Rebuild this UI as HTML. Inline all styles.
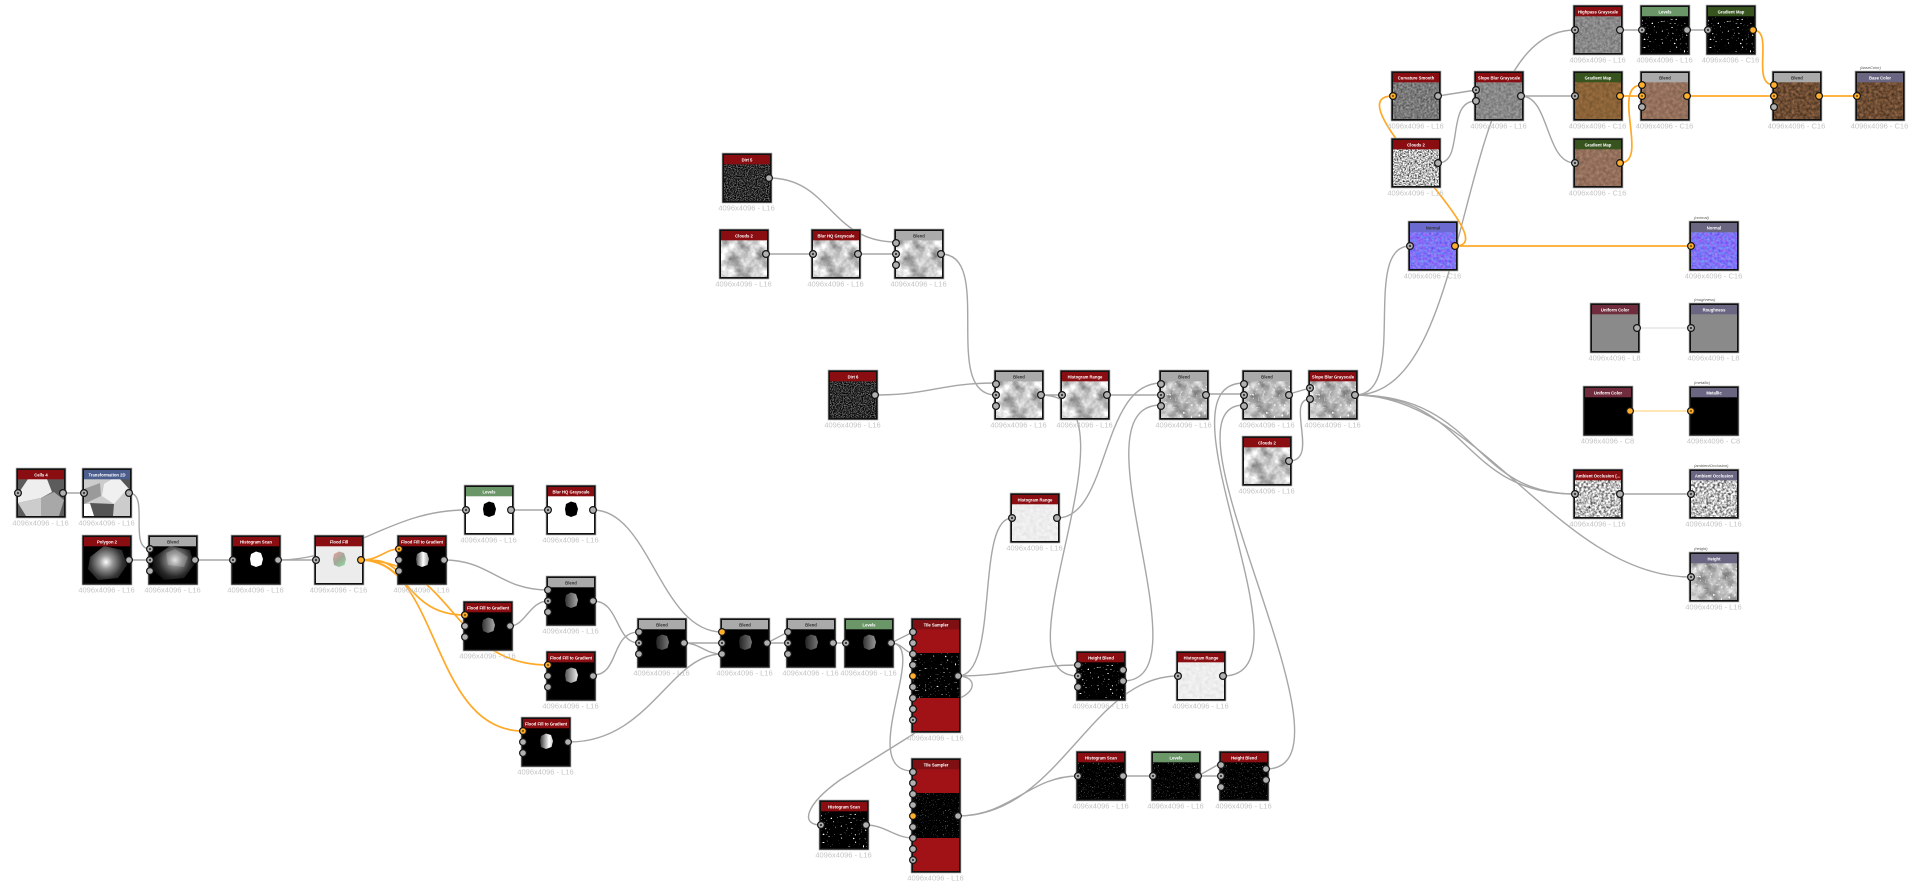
<!DOCTYPE html>
<html><head><meta charset="utf-8"><title>Node graph</title>
<style>
html,body{margin:0;padding:0;background:#fff;width:1920px;height:890px;overflow:hidden}
svg{display:block;position:absolute;left:0;top:0;filter:blur(.3px)}
.t{font:bold 4.2px "Liberation Sans",sans-serif;fill:#fff;text-anchor:middle}
.k{font:bold 4.2px "Liberation Sans",sans-serif;fill:#333;text-anchor:middle}
.d{font:7.5px "Liberation Sans",sans-serif;fill:#c4c4c4;text-anchor:middle}
.l{font:italic 4px "Liberation Sans",sans-serif;fill:#555}
.w{fill:none;stroke:#a6a6a6;stroke-width:1.4}
.o{fill:none;stroke:#ffa928;stroke-width:1.7}
</style></head><body>
<svg width="1920" height="890" viewBox="0 0 1920 890" xmlns="http://www.w3.org/2000/svg">
<defs>
<filter id="cl" x="0" y="0" width="1" height="1" color-interpolation-filters="sRGB"><feTurbulence type="fractalNoise" baseFrequency=".08" numOctaves="5" seed="7"/><feColorMatrix values="1 0 0 0 .28 1 0 0 0 .28 1 0 0 0 .28 0 0 0 0 1"/></filter>
<filter id="cd" x="0" y="0" width="1" height="1" color-interpolation-filters="sRGB"><feTurbulence type="fractalNoise" baseFrequency=".09" numOctaves="5" seed="7"/><feColorMatrix values=".8 0 0 0 .3 .8 0 0 0 .3 .8 0 0 0 .3 0 0 0 0 1" result="a"/><feTurbulence type="fractalNoise" baseFrequency=".38" numOctaves="1" seed="3"/><feColorMatrix values="0 0 0 0 1 0 0 0 0 1 0 0 0 0 1 10 0 0 0 -6.5" result="b"/><feMerge><feMergeNode in="a"/><feMergeNode in="b"/></feMerge></filter>
<filter id="ns" x="0" y="0" width="1" height="1" color-interpolation-filters="sRGB"><feTurbulence type="fractalNoise" baseFrequency=".9" numOctaves="2" seed="2"/><feColorMatrix values="1.3 0 0 0 -.47 1.3 0 0 0 -.47 1.3 0 0 0 -.47 0 0 0 0 1"/></filter>
<filter id="wn" x="0" y="0" width="1" height="1" color-interpolation-filters="sRGB"><feTurbulence type="fractalNoise" baseFrequency=".65" numOctaves="2" seed="5"/><feColorMatrix values="2 0 0 0 -.28 2 0 0 0 -.28 2 0 0 0 -.28 0 0 0 0 1"/></filter>
<filter id="ao" x="0" y="0" width="1" height="1" color-interpolation-filters="sRGB"><feTurbulence type="fractalNoise" baseFrequency=".45" numOctaves="2" seed="9"/><feColorMatrix values="1.6 0 0 0 -.05 1.6 0 0 0 -.05 1.6 0 0 0 -.05 0 0 0 0 1"/></filter>
<filter id="gy" x="0" y="0" width="1" height="1" color-interpolation-filters="sRGB"><feTurbulence type="fractalNoise" baseFrequency=".4" numOctaves="3" seed="4"/><feColorMatrix values=".35 0 0 0 .36 .35 0 0 0 .36 .35 0 0 0 .36 0 0 0 0 1"/></filter>
<filter id="gd" x="0" y="0" width="1" height="1" color-interpolation-filters="sRGB"><feTurbulence type="fractalNoise" baseFrequency=".5" numOctaves="3" seed="4"/><feColorMatrix values=".55 0 0 0 .2 .55 0 0 0 .2 .55 0 0 0 .2 0 0 0 0 1"/></filter>
<filter id="b1" x="0" y="0" width="1" height="1" color-interpolation-filters="sRGB"><feTurbulence type="fractalNoise" baseFrequency=".3" numOctaves="3" seed="4"/><feColorMatrix values=".25 0 0 0 .42 .18 0 0 0 .3 .1 0 0 0 .17 0 0 0 0 1"/></filter>
<filter id="b2" x="0" y="0" width="1" height="1" color-interpolation-filters="sRGB"><feTurbulence type="fractalNoise" baseFrequency=".3" numOctaves="3" seed="6"/><feColorMatrix values=".28 0 0 0 .44 .22 0 0 0 .33 .2 0 0 0 .26 0 0 0 0 1"/></filter>
<filter id="b3" x="0" y="0" width="1" height="1" color-interpolation-filters="sRGB"><feTurbulence type="fractalNoise" baseFrequency=".35" numOctaves="3" seed="8"/><feColorMatrix values=".5 0 0 0 .18 .36 0 0 0 .12 .26 0 0 0 .07 0 0 0 0 1"/></filter>
<filter id="nm" x="0" y="0" width="1" height="1" color-interpolation-filters="sRGB"><feTurbulence type="fractalNoise" baseFrequency=".38" numOctaves="3" seed="4"/><feColorMatrix values="0 .5 0 0 .25 0 0 .5 0 .2 0 0 0 0 .96 0 0 0 0 1"/></filter>
<filter id="sp" x="0" y="0" width="1" height="1" color-interpolation-filters="sRGB"><feTurbulence type="fractalNoise" baseFrequency=".5" numOctaves="1" seed="11"/><feColorMatrix values="14 0 0 0 -9.5 14 0 0 0 -9.5 14 0 0 0 -9.5 0 0 0 0 1"/></filter>
<filter id="sg" x="0" y="0" width="1" height="1" color-interpolation-filters="sRGB"><feTurbulence type="fractalNoise" baseFrequency=".5" numOctaves="1" seed="11"/><feColorMatrix values="8 0 0 0 -5.3 8 0 0 0 -5.3 8 0 0 0 -5.3 0 0 0 0 1"/></filter>
<filter id="sf" x="0" y="0" width="1" height="1" color-interpolation-filters="sRGB"><feTurbulence type="fractalNoise" baseFrequency=".9" numOctaves="1" seed="13"/><feColorMatrix values="5 0 0 0 -3.25 5 0 0 0 -3.25 5 0 0 0 -3.25 0 0 0 0 1"/></filter>
<filter id="wl" x="0" y="0" width="1" height="1" color-interpolation-filters="sRGB"><feTurbulence type="fractalNoise" baseFrequency=".3" numOctaves="2" seed="3"/><feColorMatrix values=".12 0 0 0 .87 .12 0 0 0 .87 .12 0 0 0 .87 0 0 0 0 1"/></filter>
<radialGradient id="rg" gradientUnits="userSpaceOnUse" cx="24" cy="27" r="22"><stop offset="0" stop-color="#fff"/><stop offset=".3" stop-color="#999"/><stop offset=".75" stop-color="#333"/><stop offset="1" stop-color="#1a1a1a"/></radialGradient>
<radialGradient id="rb" gradientUnits="userSpaceOnUse" cx="27" cy="25" r="22"><stop offset="0" stop-color="#ddd"/><stop offset=".3" stop-color="#888"/><stop offset=".75" stop-color="#2a2a2a"/><stop offset="1" stop-color="#111"/></radialGradient>
<linearGradient id="g1" gradientUnits="userSpaceOnUse" x1="19" x2="32"><stop offset="0" stop-color="#444"/><stop offset=".55" stop-color="#fff"/><stop offset="1" stop-color="#999"/></linearGradient>
<linearGradient id="g2" gradientUnits="userSpaceOnUse" x1="19" x2="32"><stop offset="0" stop-color="#333"/><stop offset="1" stop-color="#aaa"/></linearGradient>
<linearGradient id="g3" gradientUnits="userSpaceOnUse" x1="19" x2="32"><stop offset="0" stop-color="#555"/><stop offset="1" stop-color="#eee"/></linearGradient>
<linearGradient id="g4" gradientUnits="userSpaceOnUse" x1="19" x2="32"><stop offset="0" stop-color="#333"/><stop offset=".7" stop-color="#fff"/><stop offset="1" stop-color="#ccc"/></linearGradient>
<linearGradient id="g5" gradientUnits="userSpaceOnUse" x1="19" x2="32"><stop offset="0" stop-color="#222"/><stop offset="1" stop-color="#777"/></linearGradient>
<linearGradient id="g6" gradientUnits="userSpaceOnUse" x1="19" x2="32"><stop offset="0" stop-color="#333"/><stop offset="1" stop-color="#999"/></linearGradient>
<linearGradient id="g7" gradientUnits="userSpaceOnUse" x1="19" y1="17" x2="32" y2="32"><stop offset="0" stop-color="#e8a0a0"/><stop offset=".5" stop-color="#a0a898"/><stop offset="1" stop-color="#90e0a0"/></linearGradient>
<polygon id="bl" points="20,19 25,16.5 30,18 32,24 30.5,30 25,32 20,30 19,24"/>
<g id="f"><rect x="-.3" y="-.3" width="50.6" height="50.6" fill="#aaa"/><rect x=".4" y=".4" width="49.2" height="49.2" fill="#111"/></g>
<g id="u"><circle r="3.4" fill="#b0b0b0" stroke="#151515" stroke-width="1.2"/></g>
<g id="i"><circle r="3.4" fill="#b0b0b0" stroke="#151515" stroke-width="1.2"/><circle r="1.1" fill="#333"/></g>
<g id="y"><circle r="3.4" fill="#ffae2e" stroke="#151515" stroke-width="1.2"/></g>
<g id="z"><circle r="3.4" fill="#ffae2e" stroke="#151515" stroke-width="1.2"/><circle r="1.1" fill="#7a5a10"/></g>
</defs>

<!-- wires -->
<g class="wires">
<path class="w" d="M63,493H84"/>
<path class="w" d="M129,493C150,493 128,549 150,549"/>
<path class="w" d="M129,560H150"/>
<path class="w" d="M195,560H233"/>
<path class="w" d="M278,560H316"/>
<path class="w" d="M278,560C350,560 390,510 466,510"/>
<path class="w" d="M444,560C490,560 500,590 548,590"/>
<path class="w" d="M510,626C525,626 530,601 548,601"/>
<path class="w" d="M511,510H548"/>
<path class="w" d="M593,510C650,510 660,632 722,632"/>
<path class="w" d="M593,675C620,675 610,632 639,632"/>
<path class="w" d="M593,601C620,601 615,643 639,643"/>
<path class="w" d="M684,643H722"/>
<path class="w" d="M684,643C700,643 705,654 722,654"/>
<path class="w" d="M569,742C650,742 670,654 722,654"/>
<path class="w" d="M767,643L788,632"/>
<path class="w" d="M767,643H788"/>
<path class="w" d="M833,643H846"/>
<path class="w" d="M891,643L913,632"/>
<path class="w" d="M891,643C902,643 905,653 913,653"/>
<path class="w" d="M891,643C930,643 855,771 913,771"/>
<path class="w" d="M866,825C885,825 895,838 913,838"/>
<path class="w" d="M958,676C975,676 978,690 960,698L912,735L840,780C805,805 800,825 821,825"/>
<path class="w" d="M958,676C1000,676 975,518 1012,518"/>
<path class="w" d="M958,676C1010,676 1030,665 1078,665"/>
<path class="w" d="M958,816C1010,816 1030,776 1078,776"/>
<path class="w" d="M958,816C1060,816 1090,676 1178,676"/>
<path class="w" d="M1123,776H1153"/>
<path class="w" d="M1198,776H1221"/>
<path class="w" d="M1198,776L1221,763"/>
<path class="w" d="M1123,681C1210,681 1070,405 1161,405"/>
<path class="w" d="M1041,395C1150,395 990,676 1078,676"/>
<path class="w" d="M1041,395H1062"/>
<path class="w" d="M1107,395H1161"/>
<path class="w" d="M1057,518C1110,518 1100,383 1161,383"/>
<path class="w" d="M1206,394H1244"/>
<path class="w" d="M1266,769C1370,769 1150,405 1244,405"/>
<path class="w" d="M1223,676C1320,676 1150,383 1244,383"/>
<path class="w" d="M1289,394L1310,388"/>
<path class="w" d="M1289,461C1320,461 1285,399 1310,399"/>
<path class="w" d="M1355,395C1410,395 1360,246 1410,246"/>
<path class="w" d="M1355,395C1480,395 1450,30 1575,30"/>
<path class="w" d="M1355,395C1470,395 1460,494 1575,494"/>
<path class="w" d="M1355,395C1480,395 1470,494 1575,494"/>
<path class="w" d="M1355,395C1480,395 1560,577 1691,577"/>
<path class="w" d="M1438,96L1476,90"/>
<path class="w" d="M1438,163C1465,163 1445,101 1476,101"/>
<path class="w" d="M1521,96H1575"/>
<path class="w" d="M1521,96C1550,96 1545,163 1575,163"/>
<path class="w" d="M1620,30H1642"/>
<path class="w" d="M1687,30H1708"/>
<path class="w" d="M1620,494H1691"/>
<path class="w" d="M769,178C830,178 830,242 896,242"/>
<path class="w" d="M766,254H813"/>
<path class="w" d="M858,254H896"/>
<path class="w" d="M941,254C995,254 940,395 996,395"/>
<path class="w" d="M875,395C930,395 940,383 996,383"/>
<path fill="none" stroke="#e0e0e0" stroke-width="1.2" d="M1637,328H1691"/>
<path fill="none" stroke="#ffd68c" stroke-width="1.2" d="M1630,411H1691"/>
<path class="o" d="M361,560C380,560 385,549 399,549"/>
<path class="o" d="M361,560C380,560 385,560 399,572"/>
<path class="o" d="M361,560C410,560 405,615 465,615"/>
<path class="o" d="M361,560C455,560 450,665 548,665"/>
<path class="o" d="M361,560C440,560 430,731 523,731"/>
<path class="o" d="M1455,246H1691"/>
<path class="o" d="M1455,246C1510,246 1330,96 1393,96"/>
<path class="o" d="M1753,30C1775,30 1750,85 1774,85"/>
<path class="o" d="M1620,96H1642"/>
<path class="o" d="M1620,163C1650,163 1610,85 1642,85"/>
<path class="o" d="M1687,96H1774"/>
<path class="o" d="M1819,96H1857"/>
</g>

<!-- left cluster -->
<g transform="translate(16,468)"><use href="#f"/><rect x="2" y="2" width="46" height="46" fill="#5c5c5c"/><polygon points="12,11 31,11 36,24 25,30 2,35 2,26" fill="#eee"/><polygon points="2,35 25,30 25,48 10,48" fill="#ccc"/><polygon points="25,30 38,24 48,32 43,48 25,48" fill="#a8a8a8"/><rect x="2" y="2" width="46" height="9.3" fill="#8a0d12"/><text class="t" x="25" y="8.6">Cells 4</text><text class="d" x="24.5" y="57.5">4096x4096 - L16</text><use href="#i" x="2" y="25"/><use href="#u" x="47" y="25"/></g>
<g transform="translate(82,468)"><use href="#f"/><rect x="2" y="2" width="46" height="46" fill="#ccc"/><polygon points="30,11 46,11 46,20 32,36 20,28 22,16" fill="#f0f0f0"/><polygon points="2,21 18,15 19,28 2,36" fill="#9a9a9a"/><polygon points="8,35 32,36 31,48 12,48" fill="#555"/><polygon points="2,36 8,36 12,48 2,48" fill="#fff"/><polygon points="38,11 48,11 48,22" fill="#555"/><rect x="2" y="2" width="46" height="9.3" fill="#4a5d8c"/><text class="t" x="25" y="8.6">Transformation 2D</text><text class="d" x="24.5" y="57.5">4096x4096 - L16</text><use href="#i" x="2" y="25"/><use href="#u" x="47" y="25"/></g>
<g transform="translate(82,535)"><use href="#f"/><rect x="2" y="2" width="46" height="46" fill="#000"/><polygon points="8,22 22,11 40,15 45,30 36,43 16,45 6,34" fill="url(#rg)"/><rect x="2" y="2" width="46" height="9.3" fill="#8a0d12"/><text class="t" x="25" y="8.6">Polygon 2</text><text class="d" x="24.5" y="57.5">4096x4096 - L16</text><use href="#u" x="47" y="25"/></g>
<g transform="translate(148,535)"><use href="#f"/><rect x="2" y="2" width="46" height="46" fill="#000"/><polygon points="6,22 22,11 42,15 46,30 36,43 16,45 4,34" fill="url(#rb)"/><polygon points="27,14 40,22 36,32 20,30 18,18" fill="#fff" opacity=".18"/><rect x="2" y="2" width="46" height="9.3" fill="#aaa"/><text class="k" x="25" y="8.6">Blend</text><text class="d" x="24.5" y="57.5">4096x4096 - L16</text><use href="#i" x="2" y="14"/><use href="#i" x="2" y="25"/><use href="#u" x="2" y="36"/><use href="#u" x="47" y="25"/></g>
<g transform="translate(231,535)"><use href="#f"/><rect x="2" y="2" width="46" height="46" fill="#000"/><use href="#bl" fill="#fff"/><rect x="2" y="2" width="46" height="9.3" fill="#8a0d12"/><text class="t" x="25" y="8.6">Histogram Scan</text><text class="d" x="24.5" y="57.5">4096x4096 - L16</text><use href="#i" x="2" y="25"/><use href="#u" x="47" y="25"/></g>
<g transform="translate(314,535)"><use href="#f"/><rect x="2" y="2" width="46" height="46" fill="#ececec"/><use href="#bl" fill="url(#g7)"/><rect x="2" y="2" width="46" height="9.3" fill="#8a0d12"/><text class="t" x="25" y="8.6">Flood Fill</text><text class="d" x="24.5" y="57.5">4096x4096 - C16</text><use href="#i" x="2" y="25"/><use href="#y" x="47" y="25"/></g>
<g transform="translate(397,535)"><use href="#f"/><rect x="2" y="2" width="46" height="46" fill="#000"/><use href="#bl" fill="url(#g1)"/><rect x="2" y="2" width="46" height="9.3" fill="#8a0d12"/><text class="t" x="25" y="8.6">Flood Fill to Gradient</text><text class="d" x="24.5" y="57.5">4096x4096 - L16</text><use href="#z" x="2" y="14"/><use href="#u" x="2" y="25"/><use href="#u" x="2" y="36"/><use href="#u" x="47" y="25"/></g>
<g transform="translate(464,485)"><use href="#f"/><rect x="2" y="2" width="46" height="46" fill="#fff"/><use href="#bl" fill="#000"/><rect x="2" y="2" width="46" height="9.3" fill="#6a9668"/><text class="t" x="25" y="8.6">Levels</text><text class="d" x="24.5" y="57.5">4096x4096 - L16</text><use href="#i" x="2" y="25"/><use href="#u" x="47" y="25"/></g>
<g transform="translate(546,485)"><use href="#f"/><rect x="2" y="2" width="46" height="46" fill="#fff"/><use href="#bl" fill="#000"/><rect x="2" y="2" width="46" height="9.3" fill="#8a0d12"/><text class="t" x="25" y="8.6">Blur HQ Grayscale</text><text class="d" x="24.5" y="57.5">4096x4096 - L16</text><use href="#i" x="2" y="25"/><use href="#u" x="47" y="25"/></g>
<g transform="translate(463,601)"><use href="#f"/><rect x="2" y="2" width="46" height="46" fill="#000"/><use href="#bl" fill="url(#g2)"/><rect x="2" y="2" width="46" height="9.3" fill="#8a0d12"/><text class="t" x="25" y="8.6">Flood Fill to Gradient</text><text class="d" x="24.5" y="57.5">4096x4096 - L16</text><use href="#z" x="2" y="14"/><use href="#u" x="2" y="25"/><use href="#u" x="2" y="36"/><use href="#u" x="47" y="25"/></g>
<g transform="translate(546,576)"><use href="#f"/><rect x="2" y="2" width="46" height="46" fill="#000"/><use href="#bl" fill="url(#g2)"/><rect x="2" y="2" width="46" height="9.3" fill="#aaa"/><text class="k" x="25" y="8.6">Blend</text><text class="d" x="24.5" y="57.5">4096x4096 - L16</text><use href="#u" x="2" y="14"/><use href="#i" x="2" y="25"/><use href="#u" x="2" y="36"/><use href="#u" x="47" y="25"/></g>
<g transform="translate(546,651)"><use href="#f"/><rect x="2" y="2" width="46" height="46" fill="#000"/><use href="#bl" fill="url(#g3)"/><rect x="2" y="2" width="46" height="9.3" fill="#8a0d12"/><text class="t" x="25" y="8.6">Flood Fill to Gradient</text><text class="d" x="24.5" y="57.5">4096x4096 - L16</text><use href="#z" x="2" y="14"/><use href="#u" x="2" y="25"/><use href="#u" x="2" y="36"/><use href="#u" x="47" y="25"/></g>
<g transform="translate(521,717)"><use href="#f"/><rect x="2" y="2" width="46" height="46" fill="#000"/><use href="#bl" fill="url(#g4)"/><rect x="2" y="2" width="46" height="9.3" fill="#8a0d12"/><text class="t" x="25" y="8.6">Flood Fill to Gradient</text><text class="d" x="24.5" y="57.5">4096x4096 - L16</text><use href="#z" x="2" y="14"/><use href="#u" x="2" y="25"/><use href="#u" x="2" y="36"/><use href="#u" x="47" y="25"/></g>
<g transform="translate(637,618)"><use href="#f"/><rect x="2" y="2" width="46" height="46" fill="#000"/><use href="#bl" fill="url(#g5)"/><rect x="2" y="2" width="46" height="9.3" fill="#aaa"/><text class="k" x="25" y="8.6">Blend</text><text class="d" x="24.5" y="57.5">4096x4096 - L16</text><use href="#u" x="2" y="14"/><use href="#i" x="2" y="25"/><use href="#u" x="2" y="36"/><use href="#u" x="47" y="25"/></g>
<g transform="translate(720,618)"><use href="#f"/><rect x="2" y="2" width="46" height="46" fill="#000"/><use href="#bl" fill="url(#g5)"/><rect x="2" y="2" width="46" height="9.3" fill="#aaa"/><text class="k" x="25" y="8.6">Blend</text><text class="d" x="24.5" y="57.5">4096x4096 - L16</text><use href="#y" x="2" y="14"/><use href="#i" x="2" y="25"/><use href="#u" x="2" y="36"/><use href="#u" x="47" y="25"/></g>
<g transform="translate(786,618)"><use href="#f"/><rect x="2" y="2" width="46" height="46" fill="#000"/><use href="#bl" fill="url(#g5)"/><rect x="2" y="2" width="46" height="9.3" fill="#aaa"/><text class="k" x="25" y="8.6">Blend</text><text class="d" x="24.5" y="57.5">4096x4096 - L16</text><use href="#u" x="2" y="14"/><use href="#i" x="2" y="25"/><use href="#u" x="2" y="36"/><use href="#u" x="47" y="25"/></g>
<g transform="translate(844,618)"><use href="#f"/><rect x="2" y="2" width="46" height="46" fill="#000"/><use href="#bl" fill="url(#g6)"/><rect x="2" y="2" width="46" height="9.3" fill="#6a9668"/><text class="t" x="25" y="8.6">Levels</text><text class="d" x="24.5" y="57.5">4096x4096 - L16</text><use href="#i" x="2" y="25"/><use href="#u" x="47" y="25"/></g>

<!-- tile samplers -->
<g transform="translate(911,618)"><rect x="-.3" y="-.3" width="50.6" height="115.6" fill="#aaa"/><rect x=".4" y=".4" width="49.2" height="114.2" fill="#111"/><rect x="2" y="2" width="46" height="111" fill="#a01216"/><rect x="2" y="35" width="46" height="45" filter="url(#sg)"/><rect x="2" y="2" width="46" height="9.3" fill="#7e1014"/><text class="t" x="25" y="8.6">Tile Sampler</text><text class="d" x="24.5" y="122.7">4096x4096 - L16</text><use href="#u" x="2" y="14"/><use href="#u" x="2" y="25"/><use href="#u" x="2" y="36"/><use href="#u" x="2" y="47"/><use href="#y" x="2" y="58"/><use href="#u" x="2" y="69"/><use href="#u" x="2" y="80"/><use href="#u" x="2" y="91"/><use href="#i" x="2" y="102"/><use href="#u" x="47" y="58"/></g>
<g transform="translate(911,758)"><rect x="-.3" y="-.3" width="50.6" height="115.6" fill="#aaa"/><rect x=".4" y=".4" width="49.2" height="114.2" fill="#111"/><rect x="2" y="2" width="46" height="111" fill="#a01216"/><rect x="2" y="35" width="46" height="45" filter="url(#sf)"/><rect x="2" y="2" width="46" height="9.3" fill="#7e1014"/><text class="t" x="25" y="8.6">Tile Sampler</text><text class="d" x="24.5" y="122.7">4096x4096 - L16</text><use href="#u" x="2" y="14"/><use href="#u" x="2" y="25"/><use href="#u" x="2" y="36"/><use href="#u" x="2" y="47"/><use href="#y" x="2" y="58"/><use href="#u" x="2" y="69"/><use href="#u" x="2" y="80"/><use href="#u" x="2" y="91"/><use href="#i" x="2" y="102"/><use href="#u" x="47" y="58"/></g>
<g transform="translate(819,800)"><use href="#f"/><rect x="2" y="2" width="46" height="46" filter="url(#sp)"/><rect x="2" y="2" width="46" height="9.3" fill="#8a0d12"/><text class="t" x="25" y="8.6">Histogram Scan</text><text class="d" x="24.5" y="57.5">4096x4096 - L16</text><use href="#i" x="2" y="25"/><use href="#u" x="47" y="25"/></g>
<g transform="translate(1076,651)"><use href="#f"/><rect x="2" y="2" width="46" height="46" filter="url(#sp)"/><rect x="2" y="2" width="46" height="9.3" fill="#8a0d12"/><text class="t" x="25" y="8.6">Height Blend</text><text class="d" x="24.5" y="57.5">4096x4096 - L16</text><use href="#u" x="2" y="14"/><use href="#i" x="2" y="25"/><use href="#u" x="2" y="36"/><use href="#u" x="47" y="19"/><use href="#u" x="47" y="30"/></g>
<g transform="translate(1176,651)"><use href="#f"/><rect x="2" y="2" width="46" height="46" filter="url(#wl)"/><rect x="2" y="2" width="46" height="9.3" fill="#8a0d12"/><text class="t" x="25" y="8.6">Histogram Range</text><text class="d" x="24.5" y="57.5">4096x4096 - L16</text><use href="#i" x="2" y="25"/><use href="#u" x="47" y="25"/></g>
<g transform="translate(1076,751)"><use href="#f"/><rect x="2" y="2" width="46" height="46" filter="url(#sf)"/><rect x="2" y="2" width="46" height="9.3" fill="#8a0d12"/><text class="t" x="25" y="8.6">Histogram Scan</text><text class="d" x="24.5" y="57.5">4096x4096 - L16</text><use href="#i" x="2" y="25"/><use href="#u" x="47" y="25"/></g>
<g transform="translate(1151,751)"><use href="#f"/><rect x="2" y="2" width="46" height="46" filter="url(#sf)"/><rect x="2" y="2" width="46" height="9.3" fill="#6a9668"/><text class="t" x="25" y="8.6">Levels</text><text class="d" x="24.5" y="57.5">4096x4096 - L16</text><use href="#i" x="2" y="25"/><use href="#u" x="47" y="25"/></g>
<g transform="translate(1219,751)"><use href="#f"/><rect x="2" y="2" width="46" height="46" filter="url(#sf)"/><rect x="2" y="2" width="46" height="9.3" fill="#8a0d12"/><text class="t" x="25" y="8.6">Height Blend</text><text class="d" x="24.5" y="57.5">4096x4096 - L16</text><use href="#u" x="2" y="14"/><use href="#i" x="2" y="25"/><use href="#u" x="2" y="36"/><use href="#u" x="47" y="18"/><use href="#u" x="47" y="29"/></g>

<!-- middle clouds -->
<g transform="translate(722,153)"><use href="#f"/><rect x="2" y="2" width="46" height="46" filter="url(#ns)"/><rect x="2" y="2" width="46" height="9.3" fill="#8a0d12"/><text class="t" x="25" y="8.6">Dirt 5</text><text class="d" x="24.5" y="57.5">4096x4096 - L16</text><use href="#u" x="47" y="25"/></g>
<g transform="translate(719,229)"><use href="#f"/><rect x="2" y="2" width="46" height="46" filter="url(#cl)"/><rect x="2" y="2" width="46" height="9.3" fill="#8a0d12"/><text class="t" x="25" y="8.6">Clouds 2</text><text class="d" x="24.5" y="57.5">4096x4096 - L16</text><use href="#u" x="47" y="25"/></g>
<g transform="translate(811,229)"><use href="#f"/><rect x="2" y="2" width="46" height="46" filter="url(#cl)"/><rect x="2" y="2" width="46" height="9.3" fill="#8a0d12"/><text class="t" x="25" y="8.6">Blur HQ Grayscale</text><text class="d" x="24.5" y="57.5">4096x4096 - L16</text><use href="#i" x="2" y="25"/><use href="#u" x="47" y="25"/></g>
<g transform="translate(894,229)"><use href="#f"/><rect x="2" y="2" width="46" height="46" filter="url(#cl)"/><rect x="2" y="2" width="46" height="9.3" fill="#aaa"/><text class="k" x="25" y="8.6">Blend</text><text class="d" x="24.5" y="57.5">4096x4096 - L16</text><use href="#u" x="2" y="14"/><use href="#i" x="2" y="25"/><use href="#u" x="2" y="36"/><use href="#u" x="47" y="25"/></g>
<g transform="translate(828,370)"><use href="#f"/><rect x="2" y="2" width="46" height="46" filter="url(#ns)"/><rect x="2" y="2" width="46" height="9.3" fill="#8a0d12"/><text class="t" x="25" y="8.6">Dirt 6</text><text class="d" x="24.5" y="57.5">4096x4096 - L16</text><use href="#u" x="47" y="25"/></g>
<g transform="translate(994,370)"><use href="#f"/><rect x="2" y="2" width="46" height="46" filter="url(#cl)"/><rect x="2" y="2" width="46" height="9.3" fill="#aaa"/><text class="k" x="25" y="8.6">Blend</text><text class="d" x="24.5" y="57.5">4096x4096 - L16</text><use href="#u" x="2" y="14"/><use href="#i" x="2" y="25"/><use href="#u" x="2" y="36"/><use href="#u" x="47" y="25"/></g>
<g transform="translate(1060,370)"><use href="#f"/><rect x="2" y="2" width="46" height="46" filter="url(#cl)"/><rect x="2" y="2" width="46" height="9.3" fill="#8a0d12"/><text class="t" x="25" y="8.6">Histogram Range</text><text class="d" x="24.5" y="57.5">4096x4096 - L16</text><use href="#i" x="2" y="25"/><use href="#u" x="47" y="25"/></g>
<g transform="translate(1159,370)"><use href="#f"/><rect x="2" y="2" width="46" height="46" filter="url(#cd)"/><rect x="2" y="2" width="46" height="9.3" fill="#aaa"/><text class="k" x="25" y="8.6">Blend</text><text class="d" x="24.5" y="57.5">4096x4096 - L16</text><use href="#u" x="2" y="14"/><use href="#i" x="2" y="25"/><use href="#u" x="2" y="36"/><use href="#u" x="47" y="25"/></g>
<g transform="translate(1242,370)"><use href="#f"/><rect x="2" y="2" width="46" height="46" filter="url(#cd)"/><rect x="2" y="2" width="46" height="9.3" fill="#aaa"/><text class="k" x="25" y="8.6">Blend</text><text class="d" x="24.5" y="57.5">4096x4096 - L16</text><use href="#u" x="2" y="14"/><use href="#i" x="2" y="25"/><use href="#u" x="2" y="36"/><use href="#u" x="47" y="25"/></g>
<g transform="translate(1308,370)"><use href="#f"/><rect x="2" y="2" width="46" height="46" filter="url(#cd)"/><rect x="2" y="2" width="46" height="9.3" fill="#8a0d12"/><text class="t" x="25" y="8.6">Slope Blur Grayscale</text><text class="d" x="24.5" y="57.5">4096x4096 - L16</text><use href="#i" x="2" y="18"/><use href="#u" x="2" y="29"/><use href="#u" x="47" y="25"/></g>
<g transform="translate(1242,436)"><use href="#f"/><rect x="2" y="2" width="46" height="46" filter="url(#cl)"/><rect x="2" y="2" width="46" height="9.3" fill="#8a0d12"/><text class="t" x="25" y="8.6">Clouds 2</text><text class="d" x="24.5" y="57.5">4096x4096 - L16</text><use href="#u" x="47" y="25"/></g>
<g transform="translate(1010,493)"><use href="#f"/><rect x="2" y="2" width="46" height="46" filter="url(#wl)"/><rect x="2" y="2" width="46" height="9.3" fill="#8a0d12"/><text class="t" x="25" y="8.6">Histogram Range</text><text class="d" x="24.5" y="57.5">4096x4096 - L16</text><use href="#i" x="2" y="25"/><use href="#u" x="47" y="25"/></g>

<!-- top right -->
<g transform="translate(1573,5)"><use href="#f"/><rect x="2" y="2" width="46" height="46" filter="url(#gy)"/><rect x="2" y="2" width="46" height="9.3" fill="#8a0d12"/><text class="t" x="25" y="8.6">Highpass Grayscale</text><text class="d" x="24.5" y="57.5">4096x4096 - L16</text><use href="#i" x="2" y="25"/><use href="#u" x="47" y="25"/></g>
<g transform="translate(1640,5)"><use href="#f"/><rect x="2" y="2" width="46" height="46" filter="url(#sp)"/><rect x="2" y="2" width="46" height="9.3" fill="#6a9668"/><text class="t" x="25" y="8.6">Levels</text><text class="d" x="24.5" y="57.5">4096x4096 - L16</text><use href="#i" x="2" y="25"/><use href="#u" x="47" y="25"/></g>
<g transform="translate(1706,5)"><use href="#f"/><rect x="2" y="2" width="46" height="46" filter="url(#sp)"/><rect x="2" y="2" width="46" height="9.3" fill="#37541f"/><text class="t" x="25" y="8.6">Gradient Map</text><text class="d" x="24.5" y="57.5">4096x4096 - C16</text><use href="#i" x="2" y="25"/><use href="#y" x="47" y="25"/></g>
<g transform="translate(1391,71)"><use href="#f"/><rect x="2" y="2" width="46" height="46" filter="url(#gd)"/><rect x="2" y="2" width="46" height="9.3" fill="#8a0d12"/><text class="t" x="25" y="8.6">Curvature Smooth</text><text class="d" x="24.5" y="57.5">4096x4096 - L16</text><use href="#z" x="2" y="25"/><use href="#u" x="47" y="25"/></g>
<g transform="translate(1474,71)"><use href="#f"/><rect x="2" y="2" width="46" height="46" filter="url(#gy)"/><rect x="2" y="2" width="46" height="9.3" fill="#8a0d12"/><text class="t" x="25" y="8.6">Slope Blur Grayscale</text><text class="d" x="24.5" y="57.5">4096x4096 - L16</text><use href="#i" x="2" y="19"/><use href="#u" x="2" y="30"/><use href="#u" x="47" y="25"/></g>
<g transform="translate(1573,71)"><use href="#f"/><rect x="2" y="2" width="46" height="46" filter="url(#b1)"/><rect x="2" y="2" width="46" height="9.3" fill="#37541f"/><text class="t" x="25" y="8.6">Gradient Map</text><text class="d" x="24.5" y="57.5">4096x4096 - C16</text><use href="#i" x="2" y="25"/><use href="#y" x="47" y="25"/></g>
<g transform="translate(1640,71)"><use href="#f"/><rect x="2" y="2" width="46" height="46" filter="url(#b2)"/><rect x="2" y="2" width="46" height="9.3" fill="#aaa"/><text class="k" x="25" y="8.6">Blend</text><text class="d" x="24.5" y="57.5">4096x4096 - C16</text><use href="#y" x="2" y="14"/><use href="#z" x="2" y="25"/><use href="#u" x="2" y="36"/><use href="#y" x="47" y="25"/></g>
<g transform="translate(1391,138)"><use href="#f"/><rect x="2" y="2" width="46" height="46" filter="url(#wn)"/><rect x="2" y="2" width="46" height="9.3" fill="#8a0d12"/><text class="t" x="25" y="8.6">Clouds 2</text><text class="d" x="24.5" y="57.5">4096x4096 - L16</text><use href="#u" x="47" y="25"/></g>
<g transform="translate(1573,138)"><use href="#f"/><rect x="2" y="2" width="46" height="46" filter="url(#b2)"/><rect x="2" y="2" width="46" height="9.3" fill="#37541f"/><text class="t" x="25" y="8.6">Gradient Map</text><text class="d" x="24.5" y="57.5">4096x4096 - C16</text><use href="#i" x="2" y="25"/><use href="#y" x="47" y="25"/></g>
<g transform="translate(1408,221)"><use href="#f"/><rect x="2" y="2" width="46" height="46" filter="url(#nm)"/><rect x="2" y="2" width="46" height="9.3" fill="#6a6ad0"/><text class="k" x="25" y="8.6">Normal</text><text class="d" x="24.5" y="57.5">4096x4096 - C16</text><use href="#i" x="2" y="25"/><use href="#y" x="47" y="25"/></g>
<g transform="translate(1772,71)"><use href="#f"/><rect x="2" y="2" width="46" height="46" filter="url(#b3)"/><rect x="2" y="2" width="46" height="9.3" fill="#aaa"/><text class="k" x="25" y="8.6">Blend</text><text class="d" x="24.5" y="57.5">4096x4096 - C16</text><use href="#y" x="2" y="14"/><use href="#z" x="2" y="25"/><use href="#u" x="2" y="36"/><use href="#y" x="47" y="25"/></g>
<g transform="translate(1855,71)"><use href="#f"/><rect x="2" y="2" width="46" height="46" filter="url(#b3)"/><rect x="2" y="2" width="46" height="9.3" fill="#6a6682"/><text class="t" x="25" y="8.6">Base Color</text><text class="l" x="5" y="-2">(baseColor)</text><text class="d" x="24.5" y="57.5">4096x4096 - C16</text><use href="#z" x="2" y="25"/></g>
<g transform="translate(1689,221)"><use href="#f"/><rect x="2" y="2" width="46" height="46" filter="url(#nm)"/><rect x="2" y="2" width="46" height="9.3" fill="#6a6682"/><text class="t" x="25" y="8.6">Normal</text><text class="l" x="5" y="-2">(normal)</text><text class="d" x="24.5" y="57.5">4096x4096 - C16</text><use href="#z" x="2" y="25"/></g>

<!-- outputs -->
<g transform="translate(1590,303)"><use href="#f"/><rect x="2" y="2" width="46" height="46" fill="#8a8a8a"/><rect x="2" y="2" width="46" height="9.3" fill="#702c3c"/><text class="t" x="25" y="8.6">Uniform Color</text><text class="d" x="24.5" y="57.5">4096x4096 - L8</text><use href="#u" x="47" y="25"/></g>
<g transform="translate(1689,303)"><use href="#f"/><rect x="2" y="2" width="46" height="46" fill="#8a8a8a"/><rect x="2" y="2" width="46" height="9.3" fill="#6a6682"/><text class="t" x="25" y="8.6">Roughness</text><text class="l" x="5" y="-2">(roughness)</text><text class="d" x="24.5" y="57.5">4096x4096 - L8</text><use href="#i" x="2" y="25"/></g>
<g transform="translate(1583,386)"><use href="#f"/><rect x="2" y="2" width="46" height="46" fill="#000"/><rect x="2" y="2" width="46" height="9.3" fill="#702c3c"/><text class="t" x="25" y="8.6">Uniform Color</text><text class="d" x="24.5" y="57.5">4096x4096 - C8</text><use href="#y" x="47" y="25"/></g>
<g transform="translate(1689,386)"><use href="#f"/><rect x="2" y="2" width="46" height="46" fill="#000"/><rect x="2" y="2" width="46" height="9.3" fill="#6a6682"/><text class="t" x="25" y="8.6">Metallic</text><text class="l" x="5" y="-2">(metallic)</text><text class="d" x="24.5" y="57.5">4096x4096 - C8</text><use href="#z" x="2" y="25"/></g>
<g transform="translate(1573,469)"><use href="#f"/><rect x="2" y="2" width="46" height="46" filter="url(#ao)"/><rect x="2" y="2" width="46" height="9.3" fill="#8a0d12"/><text class="t" x="25" y="8.6">Ambient Occlusion (...</text><text class="d" x="24.5" y="57.5">4096x4096 - L16</text><use href="#i" x="2" y="25"/><use href="#u" x="47" y="25"/></g>
<g transform="translate(1689,469)"><use href="#f"/><rect x="2" y="2" width="46" height="46" filter="url(#ao)"/><rect x="2" y="2" width="46" height="9.3" fill="#6a6682"/><text class="t" x="25" y="8.6">Ambient Occlusion</text><text class="l" x="5" y="-2">(ambientOcclusion)</text><text class="d" x="24.5" y="57.5">4096x4096 - L16</text><use href="#i" x="2" y="25"/></g>
<g transform="translate(1689,552)"><use href="#f"/><rect x="2" y="2" width="46" height="46" filter="url(#cd)"/><rect x="2" y="2" width="46" height="9.3" fill="#6a6682"/><text class="t" x="25" y="8.6">Height</text><text class="l" x="5" y="-2">(height)</text><text class="d" x="24.5" y="57.5">4096x4096 - L16</text><use href="#i" x="2" y="25"/></g>
</svg>
</body></html>
